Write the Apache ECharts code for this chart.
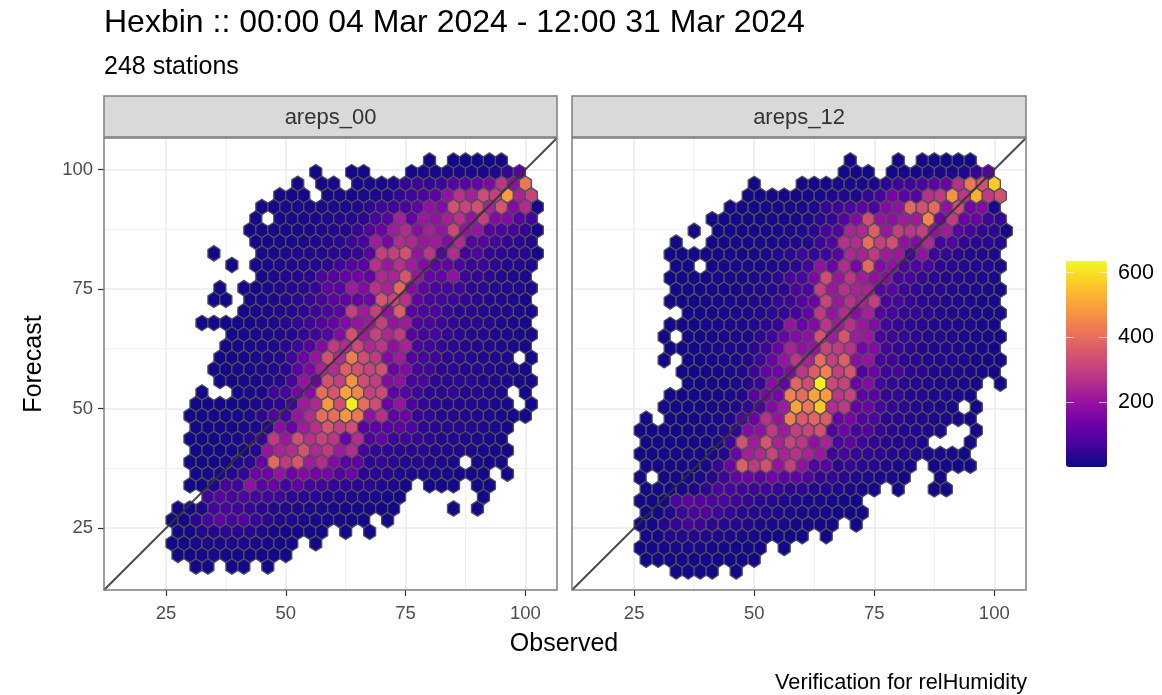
<!DOCTYPE html>
<html><head><meta charset="utf-8">
<script src="https://cdn.jsdelivr.net/npm/echarts@6/dist/echarts.min.js"></script>
<style>html,body{margin:0;padding:0;background:#fff}#c{width:1162px;height:695px}</style></head>
<body><div id="c"></div>
<script>
// Each row: [first column index, counts...]; 0 = empty bin. Rows run top to bottom.
const areps00Rows = [
[22,8,0,8,8,8,8,8],
[12,8,0,0,8,10,0,0,0,10,15,15,20,20,20,20,25,50,100],
[11,8,0,10,15,0,15,15,15,20,50,60,50,60,100,100,120,160,280,190,420],
[9,10,10,10,0,15,15,15,20,20,25,50,60,80,110,190,270,230,330,300,490,240,310],
[8,10,10,15,15,15,15,20,20,25,40,60,60,80,110,190,170,340,310,340,240,350,170,260,15],
[7,10,0,15,15,15,20,20,30,30,40,70,100,230,120,210,190,230,270,200,300,170,170,100,70],
[7,10,10,15,15,15,20,20,30,30,50,90,130,220,260,180,230,200,320,200,200,90,80,70,50,12],
[7,10,12,15,15,20,25,30,35,60,70,220,150,260,250,210,220,170,260,90,100,70,50,40,30],
[4,8,0,0,0,15,15,20,25,25,30,40,40,50,100,300,300,340,200,280,100,260,70,90,50,40,40,40,10],
[5,8,0,12,15,20,25,25,30,40,60,90,100,270,210,270,220,170,110,120,80,50,60,40,30,30,25],
[8,15,20,25,30,35,80,100,120,140,120,250,240,350,210,120,120,190,60,50,40,30,25,20],
[4,8,0,12,12,20,25,30,40,50,110,100,220,170,270,240,390,170,110,80,70,60,40,40,30,25,25,20],
[4,8,8,0,12,15,20,30,40,50,70,110,120,120,140,350,310,270,120,80,70,60,50,40,30,25,20,15],
[6,10,15,20,25,30,40,60,80,100,300,220,300,200,370,100,80,80,50,40,40,30,25,25,20,12],
[3,8,8,8,10,12,20,25,35,50,60,90,120,170,200,220,300,200,220,90,80,60,50,40,35,30,25,20,12],
[5,10,15,15,20,25,30,50,60,90,170,340,220,310,250,290,100,70,70,50,40,30,30,25,20,15,12],
[5,10,12,15,20,25,40,60,90,170,290,260,320,250,280,190,240,80,60,50,40,30,30,25,20,15,12],
[4,8,10,12,15,20,30,60,130,200,340,260,430,330,290,170,220,90,70,60,40,35,30,25,25,20,0,10],
[4,8,10,15,15,20,30,40,100,160,240,260,370,340,310,340,130,170,70,60,40,40,30,30,25,20,15,10],
[4,8,10,12,15,20,30,70,200,130,340,300,470,330,300,170,190,70,80,40,40,35,35,25,25,20,15,12],
[3,8,0,0,10,15,20,60,70,150,170,400,350,500,450,300,320,110,100,60,40,40,50,30,30,25,20,0,10],
[2,8,10,10,10,12,20,25,40,60,220,250,480,330,620,400,330,130,200,80,50,40,30,30,30,25,20,15,0,10],
[2,8,10,10,10,12,20,40,90,70,200,260,400,400,480,420,190,270,110,130,50,45,30,30,30,25,20,15,12,10],
[2,8,10,10,12,15,20,30,180,130,220,270,350,300,330,100,110,100,110,80,40,35,30,30,30,25,15,10],
[2,8,10,10,12,15,30,50,290,210,330,270,310,280,130,260,80,120,60,60,50,40,30,25,25,20,15,10],
[2,8,8,10,12,15,30,200,240,260,340,250,290,220,260,70,50,45,40,40,35,30,25,20,20,15,15,10],
[2,8,10,10,12,25,40,120,390,290,350,220,260,170,100,110,40,50,35,30,30,25,20,15,0,12,10,8],
[2,8,12,20,30,50,130,130,200,130,170,140,150,90,130,40,40,30,25,20,20,15,15,12,10,8,0,8],
[2,8,10,25,70,60,190,100,130,70,110,70,70,50,45,40,35,25,20,12,0,10,10,8,0,8,8],
[3,60,100,70,80,70,60,60,40,40,35,30,25,20,20,15,12,10,0,0,0,0,0,0,8],
[1,8,10,20,70,80,60,50,40,30,30,25,20,20,15,15,12,12,10,8,0,0,0,0,8,0,8],
[0,8,10,40,70,110,70,90,50,40,30,25,20,15,15,12,10,8,0,8],
[1,8,10,30,30,40,40,30,20,15,12,10,10,8,0,8,0,8],
[0,8,10,15,25,20,25,20,15,12,10,8,0,8],
[1,8,10,12,15,12,12,10,10,8,8],
[2,8,8,0,8,8,0,8]
];
const areps12Rows = [
[18,8,0,0,0,8,0,8,8,8,8,8],
[17,8,8,8,0,10,12,12,15,20,20,25,50,90],
[10,8,0,0,0,10,10,10,12,15,15,15,40,60,60,80,110,130,270,420,340,570],
[9,8,8,8,10,10,12,15,25,25,20,50,70,150,110,100,270,290,470,280,520,290,340],
[8,10,10,10,12,12,15,15,20,50,60,80,110,80,170,190,390,340,390,190,330,140,170,15],
[6,8,8,10,10,10,12,15,15,20,40,50,100,170,330,200,190,220,220,450,140,290,130,130,60,50],
[5,8,0,10,10,10,12,15,15,20,25,35,70,90,240,250,370,210,300,280,300,190,220,100,70,50,40,10],
[3,8,0,0,10,10,12,12,15,15,20,25,30,60,90,270,260,400,300,340,190,170,250,70,90,50,40,35,30],
[3,8,8,10,10,10,12,15,15,20,25,40,60,50,60,100,250,240,290,220,210,70,190,60,50,40,30,25,20],
[3,8,8,0,10,12,12,15,15,20,25,40,70,190,130,260,150,390,170,190,80,80,70,40,40,30,25,25,15],
[3,8,8,10,10,12,15,15,20,25,35,80,80,160,330,210,280,220,190,180,70,70,50,40,30,30,25,20,15],
[3,8,8,10,12,12,15,20,25,30,40,80,80,300,210,270,240,240,100,100,60,50,40,35,30,25,20,15,12],
[3,8,8,10,12,15,15,20,25,30,50,60,100,130,310,210,270,240,300,80,70,50,40,35,30,25,20,15,12],
[4,10,10,12,15,15,20,25,35,50,70,120,290,200,260,180,230,90,70,50,50,40,30,30,25,20,15,12],
[3,8,8,10,12,15,15,20,30,40,50,200,130,170,280,220,270,210,170,70,50,40,35,30,25,20,20,15,12],
[2,8,0,10,10,12,15,15,20,40,60,130,170,190,340,220,350,220,210,70,60,50,40,30,30,25,20,15,15,10],
[3,8,8,10,12,15,15,20,40,60,130,240,190,200,310,290,270,150,170,70,50,40,30,25,25,20,15,15,10],
[2,8,0,10,10,12,15,20,30,60,130,200,280,240,400,300,370,180,200,70,60,40,40,30,25,25,20,15,12,10],
[4,8,8,10,12,15,25,60,120,140,170,280,370,440,300,350,90,130,60,70,40,40,25,25,20,20,15,10],
[4,8,8,10,12,20,30,50,180,120,380,330,620,320,310,130,170,70,50,40,30,25,20,20,15,10,0,8],
[3,8,8,10,10,12,15,25,100,160,150,440,400,500,490,280,310,110,100,50,50,30,30,25,25,20,10],
[2,8,8,10,10,12,15,25,50,80,170,220,500,420,560,260,290,120,130,70,45,40,30,25,20,15,0,8],
[1,8,0,8,10,10,12,15,30,80,130,270,200,440,360,380,360,130,150,90,80,40,40,30,25,25,20,15,10],
[0,8,8,8,10,10,12,15,25,45,170,190,290,220,300,310,340,90,140,70,90,50,40,30,30,25,15,0,0,8],
[1,8,8,10,10,12,12,20,60,340,220,350,240,310,280,190,240,80,110,60,45,35,30,30,20,0,0,0,8],
[0,8,8,8,10,10,12,15,30,130,230,250,310,240,270,240,210,60,70,50,45,40,30,25,25,20,15,12,8],
[1,8,8,10,10,12,15,50,130,370,290,340,200,300,190,90,100,40,50,35,30,25,20,12,0,8,10,10,8],
[0,8,0,10,10,12,20,30,60,120,130,110,140,110,120,90,50,50,35,25,25,20,15,10,0,0,8],
[1,8,8,10,12,20,40,80,70,60,60,60,50,40,40,30,30,25,20,15,10,0,8,0,0,8,8],
[0,8,8,12,80,110,90,80,80,60,50,40,30,25,20,15,15,12,10,8],
[1,8,10,30,60,80,90,60,50,35,30,25,20,20,15,15,12,10,10,8],
[0,8,10,30,50,70,60,40,35,30,25,20,15,15,12,10,10,8,0,8],
[1,8,10,25,25,30,25,20,15,15,12,10,10,8,8,0,8],
[0,8,10,12,15,15,15,12,12,10,10,8,0,8],
[1,8,8,10,10,10,10,10,8,8,8],
[3,8,8,8,8,0,8]
];
const panelNames = ['areps_00', 'areps_12'];
const axisTicks = [25, 50, 75, 100];
const minorBreaks = [37.5, 62.5, 87.5];
const legendTicks = [200, 400, 600];
const diagonal = [12.06, 106.6];
const plasma = ['#0D0887','#47039F','#7301A8','#9C179E','#BD3786','#D8576B','#ED7953','#FA9E3B','#FDC926','#F0F921'];
const rowSteps = [2.426, 2.455];
const binDX = 2.5;

const toBins = (rows, step) => rows.flatMap((row, r) => {
  const first = row[0];
  return row.slice(1).map((v, i) => v > 0 ? [(r % 2 ? 26.25 : 25) + binDX * (first + i), 101.88 - step * r, v] : null).filter(Boolean);
});

const hexSeries = (bins, idx, step) => ({
  type: 'custom', xAxisIndex: idx, yAxisIndex: idx, z: 2, data: bins, silent: true,
  encode: { x: 0, y: 1 },
  renderItem(params, api) {
    const x = api.value(0), y = api.value(1), dx = binDX / 2, dy = step * 2 / 3;
    const pts = [[x, y + dy], [x + dx, y + dy / 2], [x + dx, y - dy / 2], [x, y - dy], [x - dx, y - dy / 2], [x - dx, y + dy / 2]].map(p => api.coord(p));
    return { type: 'polygon', shape: { points: pts }, style: { fill: api.visual('color'), stroke: '#50505a', lineWidth: 1.3, lineJoin: 'round' } };
  }
});
const minorSeries = idx => ({
  type: 'custom', xAxisIndex: idx, yAxisIndex: idx, z: 1, data: minorBreaks.map(v => [v, v]), silent: true,
  encode: { x: 0, y: 1 },
  renderItem(params, api) {
    const v = api.value(0);
    const a = api.coord([v, diagonal[0]]), b = api.coord([v, diagonal[1]]), c = api.coord([diagonal[0], v]), d = api.coord([diagonal[1], v]);
    const style = { stroke: '#efefef', lineWidth: 1, fill: null };
    return { type: 'group', children: [
      { type: 'line', shape: { x1: a[0], y1: a[1], x2: b[0], y2: b[1] }, style },
      { type: 'line', shape: { x1: c[0], y1: c[1], x2: d[0], y2: d[1] }, style }
    ] };
  }
});
const diagSeries = idx => ({
  type: 'line', xAxisIndex: idx, yAxisIndex: idx, z: 3, silent: true, symbol: 'none',
  data: [[diagonal[0], diagonal[0]], [diagonal[1], diagonal[1]]],
  lineStyle: { color: 'rgba(50,50,50,0.88)', width: 2 }
});

const FONT = '"Liberation Sans", Arial, sans-serif';
const panelX = [104, 572], panelW = [453, 454];
const xAxisFor = i => ({
  type: 'value', gridIndex: i, min: diagonal[0], max: diagonal[1],
  axisLine: { show: false },
  axisTick: { show: true, length: 6, customValues: axisTicks, lineStyle: { color: '#333', width: 1.2 } },
  axisLabel: { customValues: axisTicks, color: '#4d4d4d', fontSize: 18.5, fontFamily: FONT, margin: 14 },
  splitLine: { show: true, lineStyle: { color: '#ebebeb', width: 1.5 } }
});
const yAxisFor = i => ({
  type: 'value', gridIndex: i, min: diagonal[0], max: diagonal[1],
  axisLine: { show: false },
  axisTick: { show: i === 0, length: 6, customValues: axisTicks, lineStyle: { color: '#333', width: 1.2 } },
  axisLabel: { show: i === 0, customValues: axisTicks, color: '#4d4d4d', fontSize: 18.5, fontFamily: FONT, margin: 11 },
  splitLine: { show: true, lineStyle: { color: '#ebebeb', width: 1.5 } },
  name: i === 0 ? 'Forecast' : '', nameLocation: 'middle', nameGap: 57, nameRotate: 90,
  nameTextStyle: { color: '#000', fontSize: 25, fontFamily: FONT }
});
const legendAxis = (pos) => ({
  type: 'value', gridIndex: 2, min: 1, max: 636, position: pos, z: 10,
  axisLine: { show: false }, splitLine: { show: false },
  axisTick: { show: true, inside: true, length: 8, customValues: legendTicks, lineStyle: { color: 'rgba(255,255,255,0.6)', width: 1 } },
  axisLabel: { show: pos === 'right', customValues: legendTicks, color: '#000', fontSize: 21.5, fontFamily: FONT, margin: 11 }
});

const strips = panelNames.flatMap((n, i) => [
  { type: 'rect', shape: { x: panelX[i], y: 96, width: panelW[i], height: 41 }, style: { fill: '#d9d9d9', stroke: '#7f7f7f', lineWidth: 1.5 } },
  { type: 'text', style: { x: panelX[i] + panelW[i] / 2, y: 118, text: n, align: 'center', verticalAlign: 'middle', fill: '#333', font: '22px ' + FONT } }
]);
const chart = echarts.init(document.getElementById('c'), null, { renderer: 'canvas' });
chart.setOption({
  animation: false, backgroundColor: '#fff',
  grid: [
    { left: panelX[0], top: 138, width: panelW[0], height: 452, show: true, borderColor: '#7f7f7f', borderWidth: 1.5, backgroundColor: 'transparent', z: 5 },
    { left: panelX[1], top: 138, width: panelW[1], height: 452, show: true, borderColor: '#7f7f7f', borderWidth: 1.5, backgroundColor: 'transparent', z: 5 },
    { left: 1066, top: 261, width: 41, height: 206, show: false }
  ],
  xAxis: [xAxisFor(0), xAxisFor(1), { type: 'value', gridIndex: 2, show: false, min: 0, max: 1 }],
  yAxis: [yAxisFor(0), yAxisFor(1), legendAxis('left'), legendAxis('right')],
  visualMap: [{
    type: 'continuous', seriesIndex: [2, 3], dimension: 2, min: 1, max: 636, padding: 0,
    inRange: { color: plasma }, left: 1066, top: 261, itemWidth: 41, itemHeight: 206,
    calculable: false, realtime: false, text: null, showLabel: false, hoverLink: false,
    textStyle: { color: 'transparent', fontSize: 0 }
  }],
  series: [
    minorSeries(0), minorSeries(1),
    hexSeries(toBins(areps00Rows, rowSteps[0]), 0, rowSteps[0]),
    hexSeries(toBins(areps12Rows, rowSteps[1]), 1, rowSteps[1]),
    diagSeries(0), diagSeries(1)
  ],
  graphic: { elements: [
    ...strips,
    { type: 'text', style: { x: 104, y: 23, text: 'Hexbin :: 00:00 04 Mar 2024 - 12:00 31 Mar 2024', verticalAlign: 'middle', fill: '#000', font: '32px ' + FONT } },
    { type: 'text', style: { x: 104, y: 67, text: '248 stations', verticalAlign: 'middle', fill: '#000', font: '25px ' + FONT } },
    { type: 'text', style: { x: 564, y: 644, text: 'Observed', align: 'center', verticalAlign: 'middle', fill: '#000', font: '25px ' + FONT } },
    { type: 'text', style: { x: 1027, y: 683, text: 'Verification for relHumidity', align: 'right', verticalAlign: 'middle', fill: '#000', font: '21.7px ' + FONT } }
  ] }
});
</script></body></html>
